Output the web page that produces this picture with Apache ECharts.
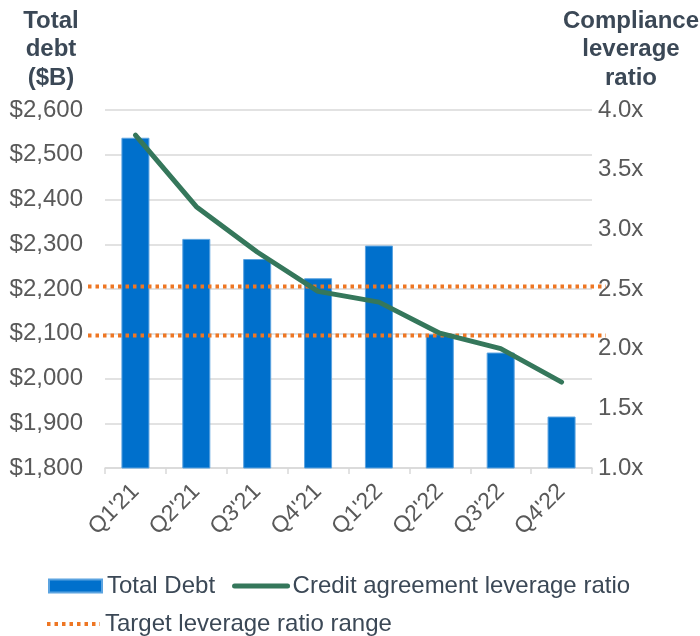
<!DOCTYPE html>
<html>
<head>
<meta charset="utf-8">
<script src="https://cdn.jsdelivr.net/npm/echarts@6/dist/echarts.min.js"></script>
<style>
  html, body { margin: 0; padding: 0; background: #fff; }
  #chart { width: 700px; height: 636px; }
</style>
</head>
<body>
<div id="chart"></div>
<script>
// quarters on the x axis
var quarters = ["Q1'21", "Q2'21", "Q3'21", "Q4'21", "Q1'22", "Q2'22", "Q3'22", "Q4'22"]
// total debt, $B (left axis)
var totalDebt = [2538, 2312, 2267, 2224, 2297, 2099, 2058, 1915]
// credit agreement leverage ratio, x (right axis)
var leverageRatio = [3.79, 3.19, 2.81, 2.48, 2.39, 2.13, 2.0, 1.72]
// target leverage ratio range, x
var targetHigh = 2.52
var targetLow = 2.11

var axisGrey = '#595959'
var titleColor = '#3B4856'
var orange = '#EE7623'
var green = '#35775B'
var fontFamily = 'Liberation Sans, Arial, sans-serif'

var chart = echarts.init(document.getElementById('chart'))

chart.setOption({
  animation: false,
  textStyle: { fontFamily: fontFamily },
  title: [
    {
      text: 'Total\ndebt\n($B)',
      left: 46, top: 2, textAlign: 'center',
      textStyle: { fontSize: 24, fontWeight: 'bold', color: titleColor, lineHeight: 28.5 }
    },
    {
      text: 'Compliance\nleverage\nratio',
      left: 626, top: 2, textAlign: 'center',
      textStyle: { fontSize: 24, fontWeight: 'bold', color: titleColor, lineHeight: 28.5 }
    }
  ],
  legend: [
    {
      data: [
        { name: 'Total Debt', icon: 'rect' },
        {
          name: 'Credit agreement leverage ratio',
          itemStyle: { opacity: 0 },
          lineStyle: { width: 5, cap: 'round', color: green }
        }
      ],
      left: 43, top: 569,
      itemWidth: 53, itemHeight: 13, itemGap: 17,
      textStyle: { fontSize: 24, color: titleColor }
    },
    {
      data: [{
        name: 'Target leverage ratio range',
        itemStyle: { opacity: 0 },
        lineStyle: { width: 4, type: [3.5, 4], color: orange }
      }],
      left: 40, top: 607,
      itemWidth: 53, itemHeight: 13,
      textStyle: { fontSize: 24, color: titleColor }
    }
  ],
  grid: [
    { left: 105, right: 108, top: 110, bottom: 168 },
    { left: 88, right: 94, top: 110, bottom: 168 }
  ],
  xAxis: [
    {
      type: 'category',
      gridIndex: 0,
      data: quarters,
      axisLine: { lineStyle: { color: '#D9D9D9', width: 1.5 } },
      axisTick: { show: true, length: 6, lineStyle: { color: '#D9D9D9', width: 1.5 } },
      axisLabel: { rotate: 45, fontSize: 23, color: axisGrey, margin: 20 }
    },
    {
      type: 'value', gridIndex: 1, min: 0, max: 1, show: false
    }
  ],
  yAxis: [
    {
      type: 'value',
      gridIndex: 0,
      min: 1800, max: 2600, interval: 100,
      axisLine: { show: false },
      axisTick: { show: false },
      splitLine: { lineStyle: { color: '#D9D9D9', width: 1.5 } },
      axisLabel: {
        fontSize: 24, color: axisGrey, margin: 22,
        formatter: function (v) { return '$' + v.toLocaleString('en-US') }
      }
    },
    {
      type: 'value',
      gridIndex: 0,
      position: 'right',
      min: 1, max: 4, interval: 0.5,
      axisLine: { show: false },
      axisTick: { show: false },
      splitLine: { show: false },
      axisLabel: {
        fontSize: 24, color: axisGrey, margin: 6,
        formatter: function (v) { return v.toFixed(1) + 'x' }
      }
    },
    {
      type: 'value', gridIndex: 1, min: 1, max: 4, show: false
    }
  ],
  series: [
    {
      name: 'Total Debt',
      type: 'bar',
      data: totalDebt,
      barWidth: '46%',
      itemStyle: { color: '#0070CC', borderColor: '#5BA3E0', borderWidth: 1 }
    },
    {
      name: 'Target leverage ratio range',
      type: 'line',
      xAxisIndex: 1, yAxisIndex: 2,
      data: [[0, targetHigh], [1, targetHigh]],
      symbol: 'none',
      lineStyle: { color: orange, width: 4, type: [3.5, 4] },
      itemStyle: { color: orange },
      z: 3
    },
    {
      name: 'Target leverage ratio range',
      type: 'line',
      xAxisIndex: 1, yAxisIndex: 2,
      data: [[0, targetLow], [1, targetLow]],
      symbol: 'none',
      lineStyle: { color: orange, width: 4, type: [3.5, 4] },
      itemStyle: { color: orange },
      z: 3
    },
    {
      name: 'Credit agreement leverage ratio',
      type: 'line',
      yAxisIndex: 1,
      data: leverageRatio,
      symbol: 'none',
      lineStyle: { color: green, width: 5, cap: 'round' },
      itemStyle: { color: green },
      z: 4
    }
  ]
})
</script>
</body>
</html>
